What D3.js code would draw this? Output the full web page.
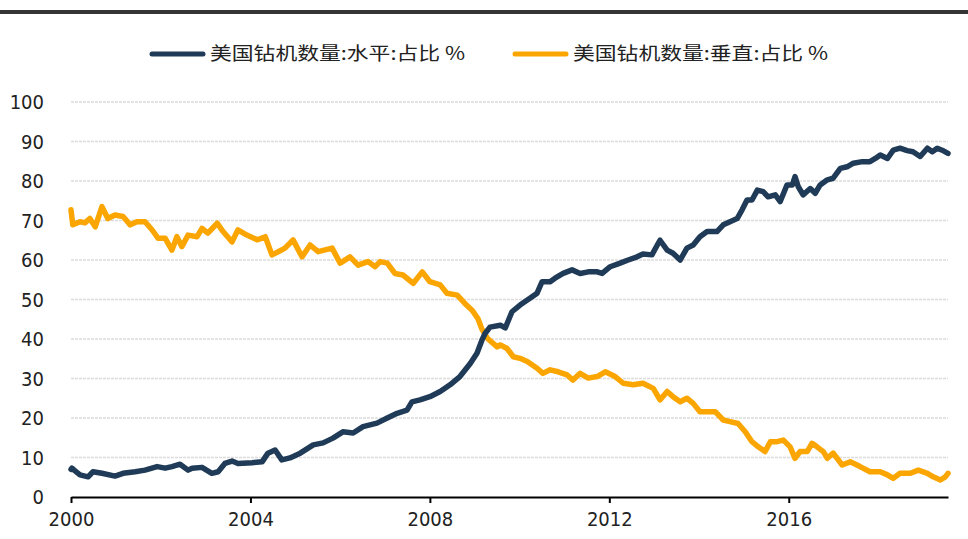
<!DOCTYPE html>
<html>
<head>
<meta charset="utf-8">
<script src="https://cdn.jsdelivr.net/npm/d3@7"></script>
<style>
  html, body { margin: 0; padding: 0; background: #fff; }
  svg { display: block; }
</style>
</head>
<body>
<script>
// series names (legend)
const seriesNames = ["美国钻机数量:水平:占比 %", "美国钻机数量:垂直:占比 %"];
const seriesColors = ["#1f3b57", "#fba500"];

// horizontal share: [year, value]
const horizontal = [
  [2000.00, 7.0], [2000.02, 7.3], [2000.07, 6.8], [2000.20, 5.6], [2000.38, 5.1], [2000.49, 6.4],
  [2000.69, 6.0], [2000.98, 5.3], [2001.16, 6.0], [2001.43, 6.4], [2001.65, 6.8], [2001.92, 7.7],
  [2002.10, 7.3], [2002.25, 7.7], [2002.43, 8.3], [2002.61, 6.8], [2002.70, 7.3], [2002.92, 7.5],
  [2003.14, 6.0], [2003.28, 6.4], [2003.43, 8.5], [2003.59, 9.1], [2003.72, 8.5], [2004.04, 8.7],
  [2004.26, 8.9], [2004.39, 11.1], [2004.55, 11.9], [2004.70, 9.4], [2004.88, 9.9], [2005.11, 11.1],
  [2005.40, 13.2], [2005.62, 13.7], [2005.84, 14.9], [2006.06, 16.5], [2006.29, 16.2], [2006.51, 17.8],
  [2006.82, 18.7], [2007.05, 20.0], [2007.27, 21.2], [2007.49, 22.0], [2007.60, 24.1], [2007.78, 24.6],
  [2008.00, 25.4], [2008.23, 26.7], [2008.45, 28.4], [2008.67, 30.5], [2008.90, 33.8], [2009.05, 36.4],
  [2009.16, 39.7], [2009.23, 41.4], [2009.34, 43.0], [2009.57, 43.5], [2009.68, 42.8], [2009.83, 46.9],
  [2010.01, 48.6], [2010.23, 50.3], [2010.39, 51.6], [2010.50, 54.5], [2010.68, 54.5], [2010.79, 55.4],
  [2010.97, 56.6], [2011.17, 57.5], [2011.35, 56.6], [2011.53, 57.0], [2011.73, 57.0], [2011.84, 56.6],
  [2012.02, 58.3], [2012.24, 59.2], [2012.42, 60.0], [2012.62, 60.8], [2012.75, 61.5], [2012.95, 61.3],
  [2013.07, 63.8], [2013.13, 65.0], [2013.29, 62.5], [2013.42, 61.7], [2013.58, 60.0], [2013.73, 63.0],
  [2013.87, 63.8], [2014.02, 65.9], [2014.18, 67.2], [2014.40, 67.2], [2014.54, 68.9], [2014.69, 69.7],
  [2014.85, 70.5], [2014.96, 72.7], [2015.07, 75.2], [2015.18, 75.2], [2015.30, 77.7], [2015.43, 77.3],
  [2015.54, 76.0], [2015.70, 76.5], [2015.81, 74.8], [2015.96, 79.0], [2016.08, 79.0], [2016.14, 81.1],
  [2016.21, 78.6], [2016.32, 76.5], [2016.48, 78.1], [2016.59, 76.9], [2016.70, 79.0], [2016.86, 80.3],
  [2016.99, 80.7], [2017.15, 83.2], [2017.30, 83.6], [2017.44, 84.5], [2017.64, 84.9], [2017.81, 84.9],
  [2017.93, 85.7], [2018.04, 86.6], [2018.20, 85.7], [2018.33, 87.8], [2018.48, 88.3], [2018.64, 87.7],
  [2018.77, 87.4], [2018.93, 86.2], [2019.09, 88.3], [2019.20, 87.4], [2019.31, 88.3], [2019.42, 87.8],
  [2019.55, 87.0]
];

// vertical share: [year, value]
const vertical = [
  [2000.00, 72.7], [2000.04, 68.9], [2000.20, 69.7], [2000.31, 69.4], [2000.42, 70.5], [2000.54, 68.4],
  [2000.69, 73.5], [2000.82, 70.5], [2000.98, 71.4], [2001.16, 71.0], [2001.32, 68.9], [2001.47, 69.7],
  [2001.65, 69.7], [2001.81, 67.6], [2001.94, 65.5], [2002.10, 65.5], [2002.25, 62.5], [2002.36, 65.9],
  [2002.47, 63.4], [2002.61, 66.3], [2002.81, 65.9], [2002.92, 68.0], [2003.05, 66.8], [2003.26, 69.3],
  [2003.39, 67.2], [2003.59, 64.6], [2003.72, 67.6], [2003.92, 66.3], [2004.15, 65.1], [2004.33, 65.9],
  [2004.48, 61.3], [2004.62, 62.1], [2004.77, 63.0], [2004.95, 65.1], [2005.15, 60.8], [2005.33, 63.8],
  [2005.51, 62.1], [2005.82, 63.0], [2006.00, 59.2], [2006.22, 60.8], [2006.40, 58.7], [2006.62, 59.6],
  [2006.78, 58.3], [2006.89, 59.6], [2007.05, 59.2], [2007.22, 56.6], [2007.40, 56.2], [2007.63, 54.1],
  [2007.83, 57.0], [2008.00, 54.5], [2008.23, 53.7], [2008.38, 51.6], [2008.61, 51.1], [2008.78, 49.0],
  [2008.94, 47.3], [2009.07, 45.2], [2009.16, 42.5], [2009.28, 40.2], [2009.50, 38.0], [2009.57, 38.5],
  [2009.72, 37.6], [2009.86, 35.5], [2010.01, 35.1], [2010.17, 34.3], [2010.39, 32.6], [2010.52, 31.3],
  [2010.68, 32.2], [2010.86, 31.7], [2011.06, 30.9], [2011.19, 29.6], [2011.35, 31.3], [2011.53, 30.1],
  [2011.73, 30.5], [2011.91, 31.7], [2012.13, 30.5], [2012.31, 28.8], [2012.53, 28.4], [2012.75, 28.8],
  [2012.98, 27.5], [2013.13, 24.6], [2013.29, 26.7], [2013.42, 25.4], [2013.58, 24.1], [2013.73, 25.0],
  [2013.87, 23.7], [2014.02, 21.6], [2014.18, 21.6], [2014.36, 21.6], [2014.54, 19.5], [2014.69, 19.1],
  [2014.87, 18.6], [2015.03, 16.5], [2015.18, 14.0], [2015.32, 12.7], [2015.47, 11.5], [2015.59, 14.0],
  [2015.74, 14.0], [2015.88, 14.4], [2016.03, 12.7], [2016.14, 9.8], [2016.25, 11.5], [2016.41, 11.5],
  [2016.52, 13.6], [2016.63, 12.7], [2016.77, 11.5], [2016.86, 9.8], [2016.99, 11.1], [2017.19, 8.1],
  [2017.37, 8.9], [2017.59, 7.7], [2017.81, 6.4], [2018.04, 6.4], [2018.20, 5.6], [2018.33, 4.7],
  [2018.48, 6.0], [2018.71, 6.0], [2018.89, 6.8], [2019.09, 6.0], [2019.22, 5.1], [2019.38, 4.3],
  [2019.49, 5.1], [2019.55, 6.0]
];

const xTicks = [2000, 2004, 2008, 2012, 2016];
const yTicks = [0, 10, 20, 30, 40, 50, 60, 70, 80, 90, 100];

const W = 968, H = 539;
const margin = { top: 102, right: 20, bottom: 42, left: 71 };

const svg = d3.select("body").append("svg")
    .attr("width", W)
    .attr("height", H);

// top dark band
svg.append("rect")
    .attr("x", 0).attr("y", 10)
    .attr("width", W).attr("height", 4)
    .attr("fill", "#353535");

const x = d3.scaleLinear().domain([2000, 2019.55]).range([margin.left, W - margin.right]);
const y = d3.scaleLinear().domain([0, 100]).range([H - margin.bottom, margin.top]);

const tickFont = "'Liberation Sans Narrow', 'DejaVu Sans Condensed', Arial, sans-serif";

// gridlines
svg.append("g")
  .selectAll("line")
  .data(yTicks.filter(d => d > 0))
  .enter().append("line")
    .attr("x1", x.range()[0])
    .attr("x2", x.range()[1])
    .attr("y1", d => y(d))
    .attr("y2", d => y(d))
    .attr("stroke", "#dcdcdc")
    .attr("stroke-width", 1.5)
    .attr("stroke-dasharray", "3,1");

// y axis labels
svg.append("g")
  .selectAll("text")
  .data(yTicks)
  .enter().append("text")
    .attr("x", 44)
    .attr("y", d => y(d))
    .attr("dy", "0.36em")
    .attr("text-anchor", "end")
    .style("font-family", tickFont)
    .style("font-size", "20px")
    .attr("fill", "#222")
    .text(d => d);

// x axis
const xAxis = svg.append("g")
    .attr("transform", "translate(0," + y(0) + ")")
    .call(d3.axisBottom(x).tickValues(xTicks).tickFormat(d3.format("d")).tickSize(6).tickSizeOuter(0).tickPadding(9));
xAxis.select(".domain").attr("stroke", "#000").attr("stroke-width", 2);
xAxis.selectAll(".tick line").attr("stroke", "#000").attr("stroke-width", 2);
xAxis.selectAll(".tick text")
    .style("font-family", tickFont)
    .style("font-size", "20px")
    .attr("fill", "#222");

// lines
const line = d3.line()
    .x(d => x(d[0]))
    .y(d => y(d[1]));

[vertical, horizontal].forEach((s, i) => {
  svg.append("path")
      .datum(s)
      .attr("fill", "none")
      .attr("stroke", i === 0 ? seriesColors[1] : seriesColors[0])
      .attr("stroke-width", 5.5)
      .attr("stroke-linejoin", "round")
      .attr("stroke-linecap", "round")
      .attr("d", line);
});

// legend
const legendX = [150, 513];
const legend = svg.append("g")
  .selectAll("g")
  .data(seriesNames)
  .enter().append("g")
    .attr("transform", (d, i) => "translate(" + legendX[i] + ",54)");

legend.append("line")
    .attr("x1", 2).attr("x2", 53)
    .attr("y1", 0).attr("y2", 0)
    .attr("stroke", (d, i) => seriesColors[i])
    .attr("stroke-width", 5)
    .attr("stroke-linecap", "round");

legend.append("text")
    .attr("x", 60)
    .attr("y", 0)
    .attr("dy", "0.36em")
    .attr("textLength", 255)
    .attr("lengthAdjust", "spacingAndGlyphs")
    .style("font-family", "'Liberation Sans Narrow', 'Noto Sans CJK SC', sans-serif")
    .style("font-size", "18px")
    .attr("fill", "#222")
    .text(d => d);
</script>
</body>
</html>
